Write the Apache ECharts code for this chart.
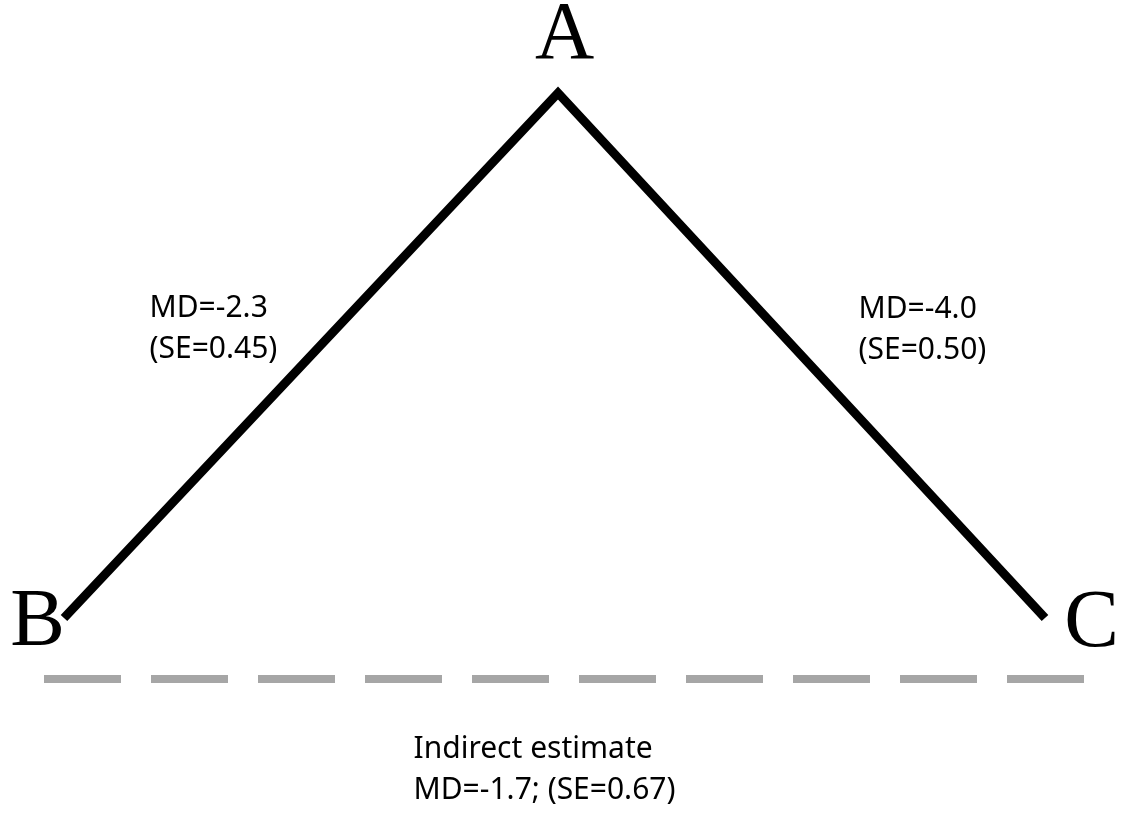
<!DOCTYPE html>
<html>
  <head>
    <meta charset="utf-8" />
    <title>Network diagram</title>
    <script src="https://cdn.jsdelivr.net/npm/echarts@6.0.0/dist/echarts.min.js"></script>
  </head>
  <body style="margin: 0">
    <div id="main" style="width: 1121px; height: 814px"></div>
    <script type="text/javascript">
      // direct comparisons: B - A - C
      var edgeX = [64, 558, 1045];
      var edgeY = [618, 93, 618];

      // indirect comparison B..C (dashed)
      var indirectX = [44, 1084];
      var indirectY = [679, 679];

      // node letters
      var nodeNames = ["A", "B", "C"];
      var nodeX = [565, 38, 1092];
      var nodeY = [37, 624, 625];

      // effect labels
      var labelTexts = [
        "MD=-2.3\n(SE=0.45)",
        "MD=-4.0\n(SE=0.50)",
        "Indirect estimate\nMD=-1.7; (SE=0.67)",
      ];
      var labelX = [150, 859, 414];
      var labelY = [329, 330, 770];

      var myChart = echarts.init(document.getElementById("main"));

      var option = {
        backgroundColor: "#ffffff",
        animation: false,
        grid: { left: 0, right: 0, top: 0, bottom: 0 },
        xAxis: { type: "value", min: 0, max: 1121, show: false },
        yAxis: { type: "value", min: 0, max: 814, inverse: true, show: false },
        series: [
          {
            name: "direct",
            type: "line",
            symbol: "none",
            data: edgeX.map((x, i) => [x, edgeY[i]]),
            lineStyle: { color: "#000000", width: 9, join: "miter" },
          },
          {
            name: "indirect",
            type: "line",
            symbol: "none",
            data: indirectX.map((x, i) => [x, indirectY[i]]),
            lineStyle: { color: "#a6a6a6", width: 8, type: [77, 30], cap: "butt" },
          },
          {
            name: "nodes",
            type: "scatter",
            symbolSize: 1,
            itemStyle: { color: "rgba(0,0,0,0)" },
            data: nodeNames.map((n, i) => ({ value: [nodeX[i], nodeY[i]], name: n })),
            label: {
              show: true,
              position: [0, 0],
              align: "center",
              verticalAlign: "middle",
              formatter: "{b}",
              fontFamily: "Liberation Serif",
              fontSize: 82,
              color: "#000000",
              opacity: 1,
            },
          },
          {
            name: "labels",
            type: "scatter",
            symbolSize: 1,
            itemStyle: { color: "rgba(0,0,0,0)" },
            data: labelTexts.map((t, i) => ({ value: [labelX[i], labelY[i]], name: t })),
            label: {
              show: true,
              position: [0, 0],
              align: "left",
              verticalAlign: "middle",
              formatter: "{b}",
              fontFamily: "Noto Sans",
              fontSize: 30,
              lineHeight: 41,
              color: "#000000",
              opacity: 1,
            },
          },
        ],
      };

      myChart.setOption(option);
    </script>
  </body>
</html>
